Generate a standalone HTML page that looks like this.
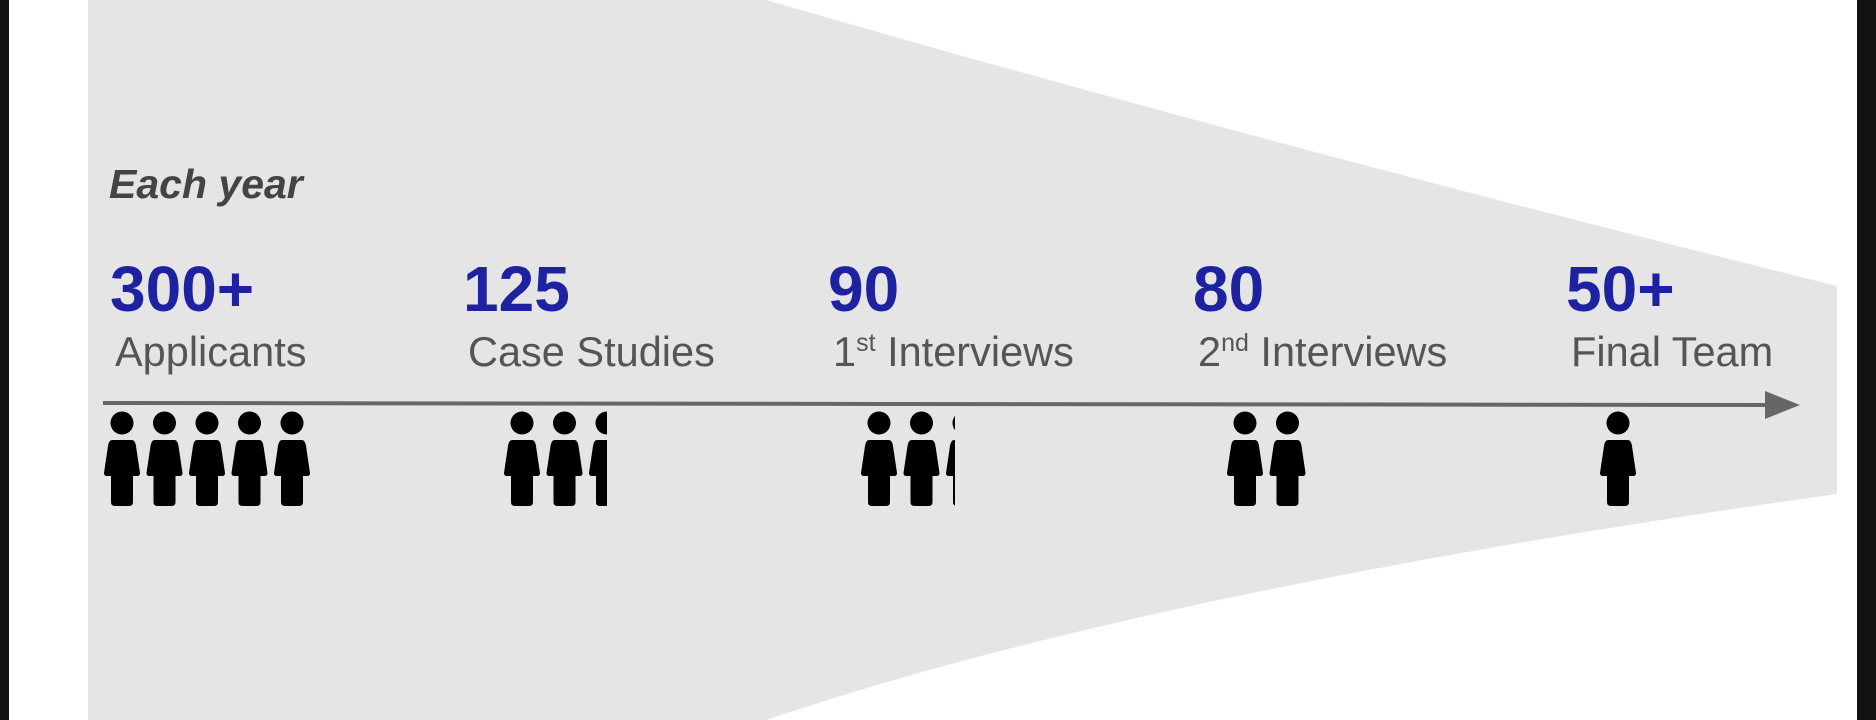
<!DOCTYPE html>
<html><head><meta charset="utf-8"><style>
html,body{margin:0;padding:0;background:#fff;}
svg{display:block;}
text{font-family:"Liberation Sans",sans-serif;}
</style></head><body>
<svg id="chart" width="1876" height="720" viewBox="0 0 1876 720">
  <rect x="0" y="0" width="9" height="720" fill="#111"/>
  <rect x="1857" y="0" width="19" height="720" fill="#111"/>
  <path d="M88 0 L766 0 Q1250 140 1837 286 L1837 494 Q1150 590 766 720 L88 720 Z" fill="#e5e5e5"/>
  <text x="109" y="198" font-size="41" font-weight="bold" font-style="italic" fill="#444">Each year</text>
  <line x1="103" y1="403" x2="1770" y2="405" stroke="#666" stroke-width="4"/>
  <path d="M1765 391 L1800 405 L1765 419 Z" fill="#666"/>
  <g id="stages"></g>
</svg>
<script>
const values = ["300+", "125", "90", "80", "50+"];
const stageLabels = ["Applicants", "Case Studies", "1", "2", "Final Team"];
const labelSup = ["", "", "st", "nd", ""];
const labelRest = ["", "", " Interviews", " Interviews", ""];
const iconCounts = [5, 2.5, 2.25, 2, 1];

const NS = "http://www.w3.org/2000/svg";
const g = document.getElementById("stages");
const colX = [110, 463, 828, 1193, 1566];
const iconStart = [122, 522, 879, 1245, 1618];
const iconGap = 42.5;

function mk(tag, attrs) {
  const e = document.createElementNS(NS, tag);
  for (const k in attrs) e.setAttribute(k, attrs[k]);
  return e;
}
function personPath(cx) {
  return `M${cx-10} 440 Q${cx-13} 440 ${cx-14} 446 L${cx-18} 473 Q${cx-18} 476 ${cx-15} 476 L${cx-11} 476 L${cx-11} 502 Q${cx-11} 506 ${cx-7} 506 L${cx+7} 506 Q${cx+11} 506 ${cx+11} 502 L${cx+11} 476 L${cx+15} 476 Q${cx+18} 476 ${cx+18} 473 L${cx+14} 446 Q${cx+13} 440 ${cx+10} 440 Z`;
}

values.forEach((v, i) => {
  const x = colX[i];
  const num = mk("text", {x: x, y: 311, "font-size": 64, "font-weight": "bold", fill: "#1e22a0"});
  num.textContent = v;
  
  
  g.appendChild(num);

  const lab = mk("text", {x: x + 5, y: 366, "font-size": 41.5, fill: "#555"});
  
  
  if (labelSup[i]) {
    const t1 = mk("tspan", {}); t1.textContent = stageLabels[i]; lab.appendChild(t1);
    const t2 = mk("tspan", {"font-size": 25, dy: -15}); t2.textContent = labelSup[i]; lab.appendChild(t2);
    const t3 = mk("tspan", {dy: 15}); t3.textContent = labelRest[i]; lab.appendChild(t3);
  } else {
    lab.textContent = stageLabels[i];
  }
  g.appendChild(lab);

  const n = iconCounts[i];
  const full = Math.ceil(n);
  const grp = mk("g", {});
  
  
  const clipId = "clip" + i;
  const left = iconStart[i] - 19;
  const lastStart = iconStart[i] + (full - 1) * iconGap - 18;
  const clipRight = (n % 1) ? lastStart + 36 * (n % 1) : iconStart[i] + (full - 1) * iconGap + 20;
  const cp = mk("clipPath", {id: clipId});
  cp.appendChild(mk("rect", {x: left, y: 400, width: clipRight - left, height: 120}));
  grp.appendChild(cp);
  grp.setAttribute("clip-path", `url(#${clipId})`);
  for (let k = 0; k < full; k++) {
    const cx = iconStart[i] + k * iconGap;
    const head = mk("circle", {cx: cx, cy: 423, r: 11.5, fill: "#000"});
    
    
    grp.appendChild(head);
    const body = mk("path", {d: personPath(cx), fill: "#000"});
    
    
    grp.appendChild(body);
  }
  g.appendChild(grp);
});
</script>
</body></html>
